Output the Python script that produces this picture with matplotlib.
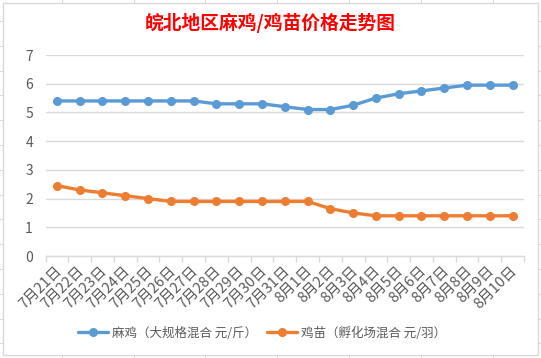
import matplotlib.pyplot as plt
from matplotlib.lines import Line2D
import numpy as np

plt.rcParams['font.family'] = ['Noto Sans CJK SC', 'DejaVu Sans']

# data
dates = ["7月21日", "7月22日", "7月23日", "7月24日", "7月25日", "7月26日", "7月27日",
         "7月28日", "7月29日", "7月30日", "7月31日", "8月1日", "8月2日", "8月3日",
         "8月4日", "8月5日", "8月6日", "8月7日", "8月8日", "8月9日", "8月10日"]
maji = [5.4, 5.4, 5.4, 5.4, 5.4, 5.4, 5.4, 5.3, 5.3, 5.3, 5.2, 5.1, 5.1, 5.25,
        5.5, 5.65, 5.75, 5.85, 5.95, 5.95, 5.95]
jimiao = [2.45, 2.3, 2.2, 2.1, 2.0, 1.9, 1.9, 1.9, 1.9, 1.9, 1.9, 1.9, 1.65, 1.5,
          1.4, 1.4, 1.4, 1.4, 1.4, 1.4, 1.4]
yticks = [0, 1, 2, 3, 4, 5, 6, 7]

label_maji = "麻鸡（大规格混合 元/斤）"
label_jimiao = "鸡苗（孵化场混合 元/羽）"
title = "皖北地区麻鸡/鸡苗价格走势图"

W, H = 541, 358
blue = "#5B9BD5"
orange = "#ED7D31"
grid_c = "#D9D9D9"
text_c = "#595959"

fig = plt.figure(figsize=(W / 100, H / 100), dpi=100)

# spreadsheet cell lines peeking around the chart
for y in [21, 45.8, 70.6, 95.4, 120.2, 145, 169.8, 194.6, 219.4, 244.2, 269, 293.8, 318.6, 343.4]:
    fig.add_artist(Line2D([0, 2.5 / W], [1 - y / H] * 2, color=grid_c, lw=0.8))
    fig.add_artist(Line2D([538 / W, 1], [1 - y / H] * 2, color=grid_c, lw=0.8))
for x in [62, 134, 205, 277, 349, 421, 493]:
    fig.add_artist(Line2D([x / W] * 2, [1, 1 - 2.5 / H], color=grid_c, lw=0.8))
    fig.add_artist(Line2D([x / W] * 2, [0, 3 / H], color=grid_c, lw=0.8))

# chart border
fig.add_artist(plt.Rectangle((2.5 / W, 3 / H), 535.5 / W, 352.5 / H, transform=fig.transFigure,
                             fill=False, edgecolor=grid_c, lw=1))

ax = fig.add_axes([45.5 / W, 1 - 256 / H, (524 - 45.5) / W, (256 - 55) / H])
x = np.arange(len(dates))
ax.plot(x, maji, color=blue, lw=2.4, marker='o', ms=5.5, label=label_maji,
        solid_capstyle='round')
ax.plot(x, jimiao, color=orange, lw=2.4, marker='o', ms=5.5, label=label_jimiao,
        solid_capstyle='round')

ax.set_xlim(-0.5, len(dates) - 0.5)
ax.set_ylim(0, 7)
ax.set_yticks(yticks)
ax.set_yticklabels([str(v) for v in yticks], color=text_c, fontsize=10)
ax.tick_params(axis='y', length=0, pad=9)
ax.grid(axis='y', color=grid_c, lw=1)
ax.set_axisbelow(True)
for s in ['top', 'right', 'left']:
    ax.spines[s].set_visible(False)
ax.spines['bottom'].set_color(grid_c)
ax.spines['bottom'].set_linewidth(1)

ax.set_xticks(np.arange(len(dates) + 1) - 0.5)
ax.set_xticklabels([])
ax.tick_params(axis='x', length=4, color=grid_c, width=1)
ax.set_xticks(x + 0.1, minor=True)
ax.set_xticklabels(dates, minor=True, rotation=45, ha='right', va='center',
                   rotation_mode='anchor', color=text_c, fontsize=10.5)
ax.tick_params(axis='x', which='minor', length=0, pad=9)

fig.text(270 / W, 1 - 23 / H, title, color='#FF0000', fontsize=13.5, fontweight='bold',
         ha='center', va='center')

fig.legend(loc='center', bbox_to_anchor=(262 / W, 1 - 333 / H), ncol=2, frameon=False,
           fontsize=9, labelcolor=text_c, handlelength=2.4, columnspacing=0.8,
           handletextpad=0.3)

fig.savefig("out.png", dpi=100)
